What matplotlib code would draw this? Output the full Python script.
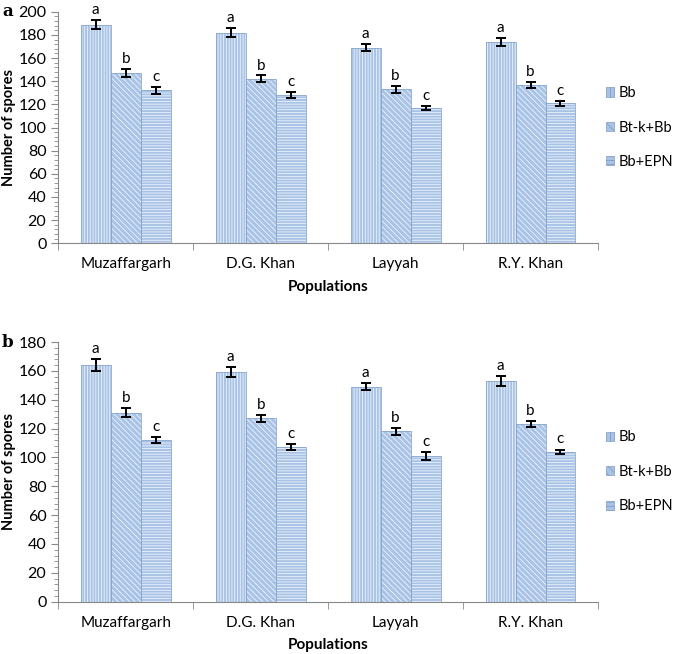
import matplotlib
matplotlib.use('Agg')
import matplotlib.pyplot as plt
from matplotlib.ticker import MultipleLocator
import numpy as np

plt.rcParams['font.family'] = ['Lato', 'DejaVu Sans']
plt.rcParams['hatch.linewidth'] = 0.6

populations = ['Muzaffargarh', 'D.G. Khan', 'Layyah', 'R.Y. Khan']
treatments = ['Bb', 'Bt-k+Bb', 'Bb+EPN']
letters = ['a', 'b', 'c']

# panel a
a_vals = {
    'Bb': [189, 182, 169, 174],
    'Bt-k+Bb': [147, 142, 133, 137],
    'Bb+EPN': [132, 128, 117, 121],
}
a_err = {
    'Bb': [4, 4, 3, 3.5],
    'Bt-k+Bb': [3.5, 3, 3, 2.5],
    'Bb+EPN': [3, 2.5, 2, 2],
}

# panel b
b_vals = {
    'Bb': [164, 159, 149, 153],
    'Bt-k+Bb': [131, 127, 118, 123],
    'Bb+EPN': [112, 107, 101, 104],
}
b_err = {
    'Bb': [4, 3.5, 2.5, 3.5],
    'Bt-k+Bb': [3, 2.5, 2.5, 2],
    'Bb+EPN': [2, 2, 2.5, 1.5],
}

hatches = ['||||||', '\\\\\\\\\\\\', '------']
legend_hatches = ['||||', '\\\\\\\\', '----']
face = '#a9c3e6'
edge = '#8aa6cc'


def draw_panel(ax, vals, errs, ymax, label):
    x = np.arange(len(populations))
    w = 0.222
    handles = []
    for i, t in enumerate(treatments):
        pos = x + (i - 1) * w
        ax.bar(pos, vals[t], w, color=face, edgecolor='#eef4fb', hatch=hatches[i],
               linewidth=0, zorder=2)
        ax.bar(pos, vals[t], w, color='none', edgecolor=edge, linewidth=0.6, zorder=3)
        ax.errorbar(pos, vals[t], yerr=errs[t], fmt='none', ecolor='black',
                    elinewidth=1.4, capsize=3.5, capthick=1.4, zorder=4)
        for p, v, e in zip(pos, vals[t], errs[t]):
            ax.text(p, v + e + ymax * 0.012, letters[i], ha='center', va='bottom', fontsize=11)
        handles.append(plt.Rectangle((0, 0), 1, 1, facecolor=face, edgecolor='#7f9cc4',
                                     hatch=legend_hatches[i], linewidth=0.5))

    ax.set_xlim(-0.5, len(populations) - 0.5)
    ax.set_ylim(0, ymax)
    ax.set_xticks(x)
    ax.set_xticklabels(populations, fontsize=11)
    ax.set_xticks(np.arange(-0.5, len(populations)), minor=True)
    ax.tick_params(axis='x', which='major', length=0, pad=10)
    ax.tick_params(axis='x', which='minor', length=5, color='#888888')
    ax.yaxis.set_major_locator(MultipleLocator(20))
    ax.yaxis.set_minor_locator(MultipleLocator(4))
    ax.tick_params(axis='y', which='major', length=5, color='#888888', labelsize=11.5)
    ax.tick_params(axis='y', which='minor', length=3, color='#888888')
    for s in ['top', 'right']:
        ax.spines[s].set_visible(False)
    for s in ['left', 'bottom']:
        ax.spines[s].set_color('#888888')
    ax.set_ylabel('Number of spores', fontsize=10.5, fontweight='bold', labelpad=2)
    ax.set_xlabel('Populations', fontsize=11, fontweight='bold', labelpad=6)
    ax.legend(handles, treatments, loc='center left', bbox_to_anchor=(0.995, 0.5),
              frameon=False, fontsize=10.5, handlelength=0.6, handleheight=0.6,
              labelspacing=1.4, handletextpad=0.3, borderaxespad=0.3)
    ax.figure.text(0.003, ax.get_position().y1, label, fontsize=12, fontweight='bold',
                   family='DejaVu Serif', va='center')


fig = plt.figure(figsize=(6.85, 6.54), dpi=100)
ax1 = fig.add_axes([0.085, 0.628, 0.788, 0.354])
ax2 = fig.add_axes([0.085, 0.080, 0.788, 0.397])
draw_panel(ax1, a_vals, a_err, 200, 'a')
draw_panel(ax2, b_vals, b_err, 180, 'b')

fig.savefig('out.png', dpi=100)
